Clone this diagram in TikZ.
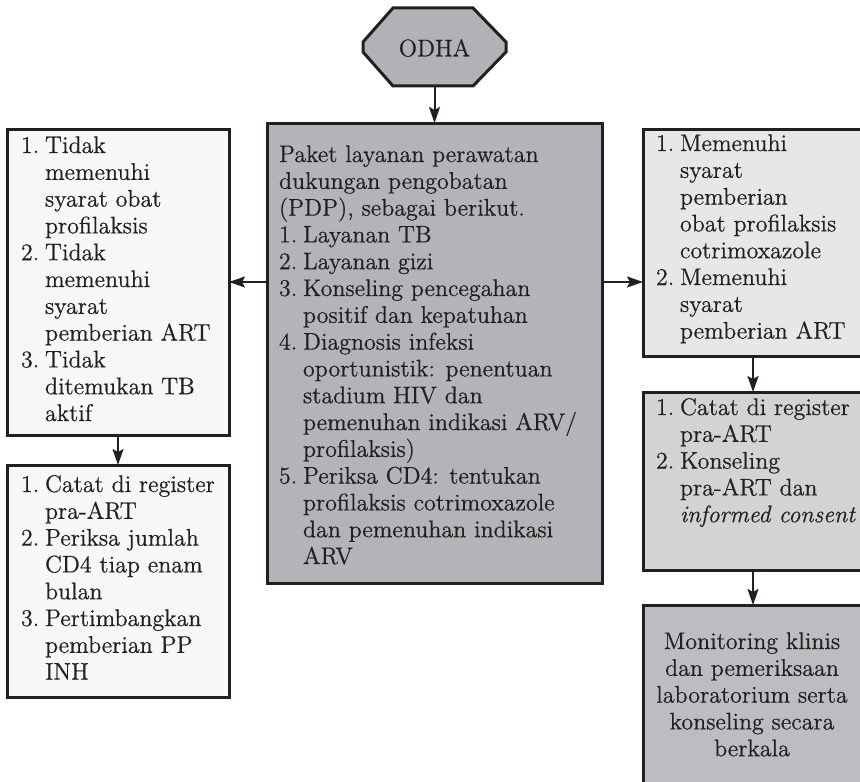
\documentclass[tikz,border=0pt]{standalone}
\usepackage{fontspec}
\setmainfont{Latin Modern Roman}[FakeBold=0.6]
\usetikzlibrary{arrows.meta}
\definecolor{ink}{HTML}{231F20}
\definecolor{gcenter}{HTML}{B3B4B7}
\definecolor{godha}{HTML}{B1B2B5}
\definecolor{gleft}{HTML}{F7F7F7}
\definecolor{gr1}{HTML}{E6E7E8}
\definecolor{gr2}{HTML}{D2D3D5}
\definecolor{gr3}{HTML}{BCBDC0}
\newlength{\hangw}\setlength{\hangw}{12pt}
\newcommand{\nm}[1]{\makebox[\hangw][l]{#1}}
\newcommand{\ind}{\hspace*{\hangw}}
\begin{document}
\begin{tikzpicture}[x=0.5pt,y=-0.5pt,
  box/.style={draw=ink, line width=1.5pt, rectangle, inner sep=0pt, outer sep=0pt},
  txt/.style={inner sep=0pt, outer sep=0pt, text=ink, font=\fontsize{12pt}{13.4pt}\selectfont},
  arr/.style={draw=ink, line width=1pt, -{Stealth[length=8pt,width=5.5pt,inset=1.5pt]}}]
\useasboundingbox (0,0) rectangle (860,781);

% ODHA octagon
\draw[draw=ink, line width=1.5pt, fill=godha, line join=miter]
  (393,8) -- (473,8) -- (506,42) -- (506,52) -- (473,86) -- (393,86) -- (363,52) -- (363,42) -- cycle;
\node[txt] (odha) at (434.5,48) {ODHA};
\coordinate (odhab) at (434.5,86);

% boxes
\node[box, fill=gcenter, minimum width=167.5pt, minimum height=230pt] (c) at (434.5,353) {};
\node[box, fill=gleft, minimum width=111pt, minimum height=153pt] (l1) at (118,282) {};
\node[box, fill=gleft, minimum width=111pt, minimum height=116pt] (l2) at (118,581) {};
\node[box, fill=gr1, minimum width=110pt, minimum height=113.5pt] (r1) at (753,242.5) {};
\node[box, fill=gr2, minimum width=110pt, minimum height=89pt] (r2) at (753,481) {};
\node[box, fill=gr3, minimum width=110pt, minimum height=92.5pt] (r3) at (753,697.5) {};

% texts
\node[txt, anchor=base west] (tc) at (279,162) {\parbox[t]{170pt}{%
Paket layanan perawatan\\
dukungan pengobatan\\
(PDP), sebagai berikut.\\
\nm{1.}Layanan TB\\
\nm{2.}Layanan gizi\\
\nm{3.}Konseling pencegahan\\
\ind positif dan kepatuhan\\
\nm{4.}Diagnosis infeksi\\
\ind oportunistik: penentuan\\
\ind stadium HIV dan\\
\ind pemenuhan indikasi ARV/\\
\ind profilaksis)\\
\nm{5.}Periksa CD4: tentukan\\
\ind profilaksis cotrimoxazole\\
\ind dan pemenuhan indikasi\\
\ind ARV}};

\node[txt, anchor=base west] (tl1) at (21,153) {\parbox[t]{110pt}{%
\nm{1.}Tidak\\
\ind memenuhi\\
\ind syarat obat\\
\ind profilaksis\\
\nm{2.}Tidak\\
\ind memenuhi\\
\ind syarat\\
\ind pemberian ART\\
\nm{3.}Tidak\\
\ind ditemukan TB\\
\ind aktif}};

\node[txt, anchor=base west] (tl2) at (21,492) {\parbox[t]{110pt}{%
\nm{1.}Catat di register\\
\ind pra-ART\\
\nm{2.}Periksa jumlah\\
\ind CD4 tiap enam\\
\ind bulan\\
\nm{3.}Pertimbangkan\\
\ind pemberian PP\\
\ind INH}};

\node[txt, anchor=base west] (tr1) at (656,151) {\parbox[t]{110pt}{%
\nm{1.}Memenuhi\\
\ind syarat\\
\ind pemberian\\
\ind obat profilaksis\\
\ind cotrimoxazole\\
\nm{2.}Memenuhi\\
\ind syarat\\
\ind pemberian ART}};

\node[txt, anchor=base west] (tr2) at (656,415) {\parbox[t]{110pt}{%
\nm{1.}Catat di register\\
\ind pra-ART\\
\nm{2.}Konseling\\
\ind pra-ART dan\\
\ind \textit{informed consent}}};

\node[txt, anchor=base] (tr3) at (752,649) {\parbox[t]{110pt}{\centering
Monitoring klinis\\
dan pemeriksaan\\
laboratorium serta\\
konseling secara\\
berkala}};

% arrows
\draw[arr] (odhab) -- (c.north);
\draw[arr] (c.west |- l1.east) -- (l1.east);
\draw[arr] (c.east |- l1.east) -- (r1.west |- l1.east);
\draw[arr] (l1.south) -- (l2.north);
\draw[arr] (r1.south) -- (r2.north);
\draw[arr] (r2.south) -- (r3.north);
\end{tikzpicture}
\end{document}
